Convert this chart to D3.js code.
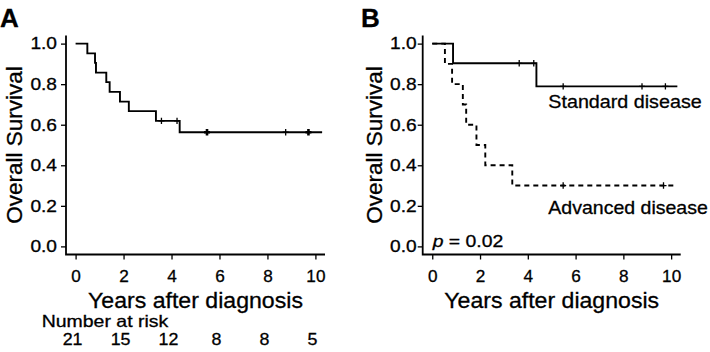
<!DOCTYPE html>
<html>
<head>
<meta charset="utf-8">
<script src="https://cdn.jsdelivr.net/npm/d3@7"></script>
<style>
  body { margin: 0; background: #fff; }
  svg text { font-family: 'Liberation Sans', Arial, sans-serif; fill: #000; stroke: #000; stroke-width: 0.3px; }
</style>
</head>
<body>
<svg id="km-svg" width="710" height="352"></svg>
<script>
// panel A - all patients
const aTimes = [0, 0.49, 0.81, 0.85, 1.28, 1.42, 1.85, 2.22, 3.35, 4.34]
const aSurv = [1, 0.952, 0.905, 0.857, 0.810, 0.762, 0.714, 0.667, 0.619, 0.563]
const aEnd = 10.28
const aCensorTimes = [3.58, 4.23, 5.48, 8.76, 9.71]
const aCensorCounts = [1, 1, 2, 1, 2]

// panel B - standard disease
const stdTimes = [0, 0.87, 4.36]
const stdSurv = [1, 0.903, 0.789]
const stdEnd = 10.26
const stdCensorTimes = [3.64, 4.25, 5.48, 8.78, 9.76]

// panel B - advanced disease
const advTimes = [0, 0.53, 0.83, 1.28, 1.42, 1.85, 2.22, 3.35]
const advSurv = [1, 0.9, 0.8, 0.7, 0.6, 0.5, 0.4, 0.3]
const advEnd = 10.24
const advCensorTimes = [5.48, 9.68]

const xTicks = [0, 2, 4, 6, 8, 10]
const yTicks = [0, 0.2, 0.4, 0.6, 0.8, 1.0]
const riskTimes = [0, 2, 4, 6, 8, 10]
const riskCounts = [21, 15, 12, 8, 8, 5]

const svg = d3.select('#km-svg')

// stretch text horizontally (the original figure was widened a bit)
function stretch(sel, k) {
  sel.each(function () {
    const w = this.getComputedTextLength()
    this.setAttribute('textLength', w * k)
    this.setAttribute('lengthAdjust', 'spacingAndGlyphs')
  })
}

function survAt(times, surv, t) {
  let s = surv[0]
  times.forEach((d, i) => { if (d <= t) s = surv[i] })
  return s
}

function drawPanel(p) {
  const g = svg.append('g')
  const x = d3.scaleLinear().domain([-0.4, 10.4]).range([p.axisX, p.x1])
  const y = d3.scaleLinear().domain([-0.04, 1.04]).range([254.5, 35.5])

  // y axis
  const yAxis = d3.axisLeft(y).tickValues(yTicks).tickFormat(d3.format('.1f'))
    .tickSize(5).tickPadding(p.yPad)
  const ya = g.append('g').attr('transform', `translate(${p.axisX},0)`).call(yAxis)
  ya.attr('font-size', null).attr('font-family', null)
  ya.select('.domain').remove()
  ya.selectAll('line').attr('stroke', '#000').attr('stroke-width', 1.3)
  ya.selectAll('text').style('font-size', '16.5px')
  stretch(ya.selectAll('text'), 1.16)

  // x axis
  const xAxis = d3.axisBottom(x).tickValues(xTicks).tickSize(5).tickPadding(11)
  const xa = g.append('g').attr('transform', 'translate(0,254.5)').call(xAxis)
  xa.attr('font-size', null).attr('font-family', null)
  xa.select('.domain').remove()
  xa.selectAll('line').attr('stroke', '#000').attr('stroke-width', 1.3)
  xa.selectAll('text').style('font-size', '16.5px')
  stretch(xa.selectAll('text'), 1.04)

  // L shaped frame
  g.append('path')
    .attr('d', `M${p.axisX},${y(1.04)}V${y(-0.04)}H${x(10.4)}`)
    .attr('fill', 'none').attr('stroke', '#000').attr('stroke-width', 1.8)

  // axis titles
  g.append('text')
    .attr('transform', `translate(${p.titleX},${y(0.5)}) rotate(-90)`)
    .attr('text-anchor', 'middle').style('font-size', '22.5px')
    .text('Overall Survival')
  const xt = g.append('text')
    .attr('x', x(5)).attr('y', 308)
    .attr('text-anchor', 'middle').style('font-size', '22px')
    .text('Years after diagnosis')
  stretch(xt, 1.05)

  // panel letter
  g.append('text')
    .attr('x', p.labelX).attr('y', 26.5)
    .style('font-size', '26px').attr('font-weight', 'bold')
    .text(p.label)

  const line = d3.line().x(d => x(d[0])).y(d => y(d[1])).curve(d3.curveStepAfter)

  p.curves.forEach(c => {
    const pts = c.times.map((t, i) => [t, c.surv[i]])
    pts.push([c.end, c.surv[c.surv.length - 1]])
    g.append('path')
      .attr('d', line(pts))
      .attr('fill', 'none')
      .attr('stroke', '#000')
      .attr('stroke-width', 1.9)
      .attr('stroke-dasharray', c.dash ? '5,4' : null)

    // censor marks (+)
    const marks = c.censor.map((t, i) => ({ t, n: c.counts ? c.counts[i] : 1 }))
    g.selectAll(null)
      .data(marks)
      .enter().append('path')
      .attr('d', d => {
        const cx = x(d.t), cy = y(survAt(c.times, c.surv, d.t))
        return `M${cx - 3},${cy}H${cx + 3}M${cx},${cy - 3.2}V${cy + 3.2}`
      })
      .attr('fill', 'none')
      .attr('stroke', '#000')
      .attr('stroke-width', d => d.n > 1 ? 2.6 : 1.3)
  })

  return { x, y, g }
}

const pA = drawPanel({
  label: 'A', labelX: 0, axisX: 66, x1: 325, titleX: 21.5, yPad: 4,
  curves: [{ times: aTimes, surv: aSurv, end: aEnd, censor: aCensorTimes, counts: aCensorCounts }]
})

const pB = drawPanel({
  label: 'B', labelX: 361, axisX: 422.7, x1: 680.7, titleX: 381.5, yPad: 1,
  curves: [
    { times: advTimes, surv: advSurv, end: advEnd, censor: advCensorTimes, dash: true },
    { times: stdTimes, surv: stdSurv, end: stdEnd, censor: stdCensorTimes }
  ]
})

// number at risk under panel A
const nr = pA.g.append('text')
  .attr('x', 41.7).attr('y', 326.5).style('font-size', '16.5px')
  .text('Number at risk')
stretch(nr, 1.18)

const rk = pA.g.selectAll('.risk')
  .data(riskCounts)
  .enter().append('text')
  .attr('class', 'risk')
  .attr('x', (d, i) => pA.x(riskTimes[i]) - 3)
  .attr('y', 345)
  .attr('text-anchor', 'middle')
  .style('font-size', '16.5px')
  .text(d => d)
stretch(rk, 1.08)

// labels in panel B
const std = pB.g.append('text')
  .attr('x', 548.3).attr('y', 108.3).style('font-size', '18.6px')
  .text('Standard disease')
stretch(std, 1.06)

const adv = pB.g.append('text')
  .attr('x', 548.3).attr('y', 214.3).style('font-size', '18.6px')
  .text('Advanced disease')
stretch(adv, 1.05)

const pv = pB.g.append('text')
  .attr('x', 432.7).attr('y', 246.7).style('font-size', '16.3px')
pv.append('tspan').attr('font-style', 'italic').text('p')
pv.append('tspan').text(' = 0.02')
stretch(pv, 1.19)
</script>
</body>
</html>
